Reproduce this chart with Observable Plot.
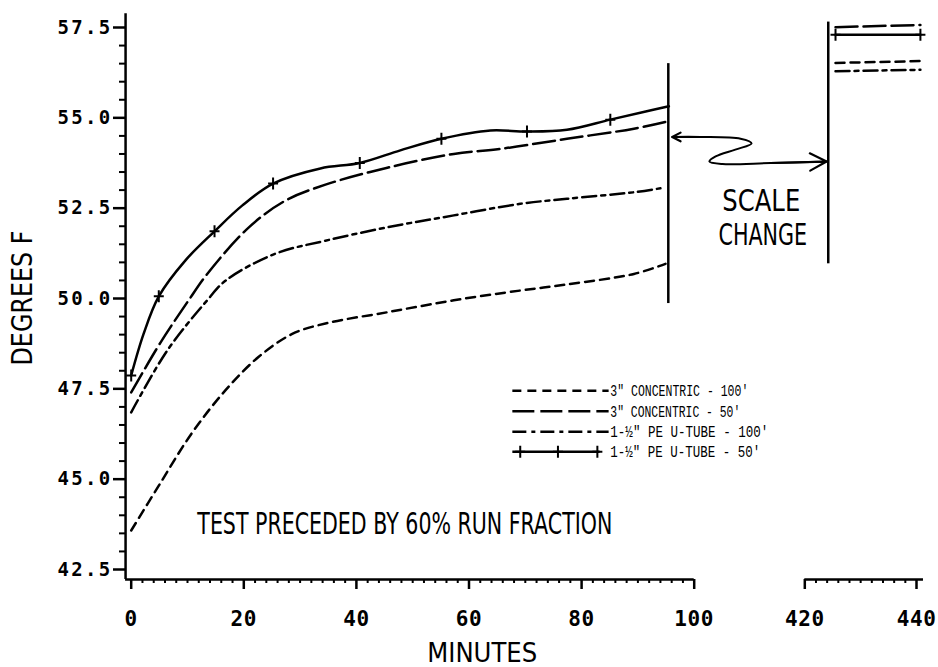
<!DOCTYPE html>
<html>
<head>
<meta charset="utf-8">
<script src="https://cdn.jsdelivr.net/npm/d3@7"></script>
<script src="https://cdn.jsdelivr.net/npm/@observablehq/plot@0.6"></script>
<style>
  html, body { margin: 0; padding: 0; background: #fff; }
  #chart svg { display: block; }
</style>
</head>
<body>
<div id="chart"></div>
<script>
// ---------------- data ----------------
const seriesLabels = [
  "3\" CONCENTRIC - 100'",
  "3\" CONCENTRIC - 50'",
  "1-½\" PE U-TUBE - 100'",
  "1-½\" PE U-TUBE - 50'"
];

// 3" concentric - 100'  (short dash)
const conc100Minutes = [0, 4.9, 10.8, 16.8, 22.6, 28.6, 34.5, 45.5, 57.3, 69.1, 77.4, 89.3, 94.9];
const conc100Degrees = [43.58, 44.82, 46.28, 47.47, 48.38, 49.02, 49.31, 49.62, 49.95, 50.22, 50.39, 50.68, 50.96];

// 3" concentric - 50'  (long dash)
const conc50Minutes = [0, 5.2, 10.2, 13.5, 20.9, 27.4, 34.5, 45.5, 57.3, 65.6, 77.4, 89.3, 95.5];
const conc50Degrees = [47.4, 48.78, 49.95, 50.68, 51.97, 52.71, 53.15, 53.62, 54.0, 54.14, 54.42, 54.7, 54.91];

// 1-1/2" PE U-tube - 100'  (dash-dot)
const pe100Minutes = [0, 6.4, 13.5, 16.8, 25.6, 34.5, 45.5, 57.3, 69.1, 77.4, 89.3, 94];
const pe100Degrees = [46.85, 48.56, 49.95, 50.5, 51.24, 51.6, 51.97, 52.3, 52.62, 52.76, 52.94, 53.05];

// 1-1/2" PE U-tube - 50'  (solid with + markers)
const pe50Minutes = [0, 2.2, 4.9, 9.6, 14.8, 19.7, 25.2, 33.6, 40.6, 47.8, 55.1, 63.8, 70.3, 77.4, 85.1, 91, 95.5];
const pe50Degrees = [47.87, 49.02, 50.06, 51.05, 51.86, 52.57, 53.18, 53.6, 53.75, 54.1, 54.42, 54.65, 54.62, 54.67, 54.95, 55.16, 55.32];
const pe50MarkMinutes = [0, 4.9, 14.8, 25.2, 40.6, 55.1, 70.3, 85.1];
const pe50MarkDegrees = [47.87, 50.06, 51.86, 53.18, 53.75, 54.42, 54.62, 54.95];

// after the scale change (420-440 minutes)
const lateMinutes = [425.5, 440.7];
const conc100Late = [56.52, 56.57];
const conc50Late = [57.51, 57.57];
const pe100Late = [56.29, 56.33];
const pe50Late = [57.3, 57.3];

// axes
const xMajorTicks = [0, 20, 40, 60, 80, 100, 420, 440];
const xMinorTicks = d3.range(2, 100, 2).filter(v => v % 20 !== 0)
  .concat(d3.range(422, 440, 2));
const yMajorTicks = [42.5, 45, 47.5, 50, 52.5, 55, 57.5];
const yMinorTicks = d3.range(43, 57.5, 0.5).filter(v => Math.abs((v - 42.5) % 2.5) > 1e-6);

const noteText = "TEST PRECEDED BY 60% RUN FRACTION";
const scaleNote = ["SCALE", "CHANGE"];
const xLabel = "MINUTES";
const yLabel = "DEGREES F";

// ---------------- chart ----------------
const zip = (a, b) => a.map((v, i) => [v, b[i]]);
const dashes = ["9,6", "22,6", "14,5,4,5", null];
const plusSymbol = {
  draw(ctx) { ctx.moveTo(-5, 0); ctx.lineTo(5, 0); ctx.moveTo(0, -6); ctx.lineTo(0, 6); }
};
const lineStyle = { x: d => d[0], y: d => d[1], stroke: "black", strokeWidth: 2.5, curve: "catmull-rom" };

const early = [
  zip(conc100Minutes, conc100Degrees),
  zip(conc50Minutes, conc50Degrees),
  zip(pe100Minutes, pe100Degrees),
  zip(pe50Minutes, pe50Degrees)
];
const late = [conc100Late, conc50Late, pe100Late, pe50Late].map(v => zip(lateMinutes, v));

// legend rows (annotation)
const legendY = [47.45, 46.88, 46.31, 45.76];
const legendRows = seriesLabels.map((name, i) => ({ name, y: legendY[i] }));

// squiggly double arrow annotation (minutes, degrees)
const arrowPath = [[96.1, 54.47], [118, 54.47], [234, 54.42], [266, 54.29], [219, 54.12],
                   [162, 53.93], [144, 53.79], [182, 53.72], [321, 53.75], [423.9, 53.79]];

const marks = [];
// axis lines (broken x axis)
marks.push(Plot.ruleY([[-1, 100], [420, 441.25]], { y: 42.22, x1: d => d[0], x2: d => d[1], strokeWidth: 2.5 }));
marks.push(Plot.ruleX([-1], { y1: 42.22, y2: 57.88, strokeWidth: 2.5 }));
// axes
marks.push(Plot.axisX(xMinorTicks, { anchor: "bottom", tickSize: 4, strokeWidth: 2, tickFormat: () => "", label: null }));
marks.push(Plot.axisX(xMajorTicks, { anchor: "bottom", tickSize: 10, tickPadding: 22, strokeWidth: 2.5,
  tickFormat: d => String(d), fontSize: 21, fontWeight: "bold", fontFamily: "DejaVu Sans Mono", label: null }));
marks.push(Plot.axisY(yMinorTicks, { anchor: "left", tickSize: 6, strokeWidth: 2, tickFormat: () => "", label: null }));
marks.push(Plot.axisY(yMajorTicks, { anchor: "left", tickSize: 12, tickPadding: 1, strokeWidth: 2.5,
  tickFormat: d => d.toFixed(1), fontSize: 19, fontWeight: "bold", fontFamily: "DejaVu Sans Mono", label: null }));

// series lines
early.forEach((pts, i) => marks.push(Plot.line(pts, { ...lineStyle, strokeDasharray: dashes[i] })));
late.forEach((pts, i) => marks.push(Plot.line(pts, { ...lineStyle, curve: "linear", strokeDasharray: dashes[i] })));
marks.push(Plot.dot(zip(pe50MarkMinutes, pe50MarkDegrees), { x: d => d[0], y: d => d[1], symbol: plusSymbol, fill: "none", stroke: "black", strokeWidth: 2 }));
marks.push(Plot.dot(late[3], { x: d => d[0], y: d => d[1], symbol: plusSymbol, fill: "none", stroke: "black", strokeWidth: 2 }));

// scale-break verticals
marks.push(Plot.ruleX([95.4], { y1: 49.86, y2: 56.5, strokeWidth: 2.5 }));
marks.push(Plot.ruleX([424.2], { y1: 50.96, y2: 57.65, strokeWidth: 2.5 }));

// arrow: squiggle plus two arrowheads
marks.push(Plot.line(arrowPath, { x: d => d[0], y: d => d[1], curve: "catmull-rom", stroke: "black", strokeWidth: 2 }));
const arrowEnds = [
  { x1: arrowPath[1][0], y1: arrowPath[1][1], x2: arrowPath[0][0], y2: arrowPath[0][1] },
  { x1: arrowPath[8][0], y1: arrowPath[8][1], x2: arrowPath[9][0], y2: arrowPath[9][1] }
];
marks.push(Plot.arrow(arrowEnds, { x1: "x1", y1: "y1", x2: "x2", y2: "y2", headLength: 13, headAngle: 55, stroke: "black", strokeWidth: 2.2 }));

// legend
legendRows.forEach((row, i) => {
  marks.push(Plot.link([row], { x1: 67.7, x2: i === 3 ? 83.2 : 84.8, y1: "y", y2: "y", stroke: "black", strokeWidth: 2.5, strokeDasharray: dashes[i] }));
});
marks.push(Plot.dot([[69.1, legendY[3]], [75.8, legendY[3]], [82.8, legendY[3]]], { x: d => d[0], y: d => d[1], symbol: plusSymbol, fill: "none", stroke: "black", strokeWidth: 2 }));
marks.push(Plot.text(legendRows, { x: 85.1, y: "y", text: "name", textAnchor: "start", fontFamily: "Liberation Mono", fontSize: 17, fill: "black" }));

// annotations
marks.push(Plot.text([noteText], { x: 48.6, y: 43.75, text: d => d, fontFamily: "DejaVu Sans", fontSize: 30, fill: "black" }));
marks.push(Plot.text([scaleNote[0]], { x: 294.1, y: 52.69, text: d => d, fontFamily: "DejaVu Sans", fontSize: 30, fill: "black" }));
marks.push(Plot.text([scaleNote[1]], { x: 298.5, y: 51.74, text: d => d, fontFamily: "DejaVu Sans", fontSize: 30, fill: "black" }));
// axis titles
marks.push(Plot.text([xLabel], { frameAnchor: "bottom", text: d => d, dx: -42.3, dy: 82, fontFamily: "DejaVu Sans", fontSize: 27, fill: "black" }));
marks.push(Plot.text([yLabel], { frameAnchor: "left", text: d => d, dx: -102.5, dy: 69, rotate: -90, fontFamily: "DejaVu Sans", fontSize: 29, fill: "black" }));

const chart = Plot.plot({
  width: 938,
  height: 667,
  marginLeft: 125,
  marginRight: 15,
  marginTop: 13,
  marginBottom: 88,
  style: { background: "#fff", color: "#000", fontFamily: "DejaVu Sans Mono", fontSize: "19px" },
  x: { type: "linear", domain: [0, 100, 420, 440], range: [130.7, 693.7, 804.3, 916] },
  y: { type: "linear", domain: [42.5, 57.5], range: [569, 27] },
  marks
});

// fit condensed lettering widths
const fits = new Map([
  [noteText, 415], ["SCALE", 78], ["CHANGE", 88.7], [xLabel, 110], [yLabel, 135],
  [seriesLabels[0], 138], [seriesLabels[1], 130], [seriesLabels[2], 158], [seriesLabels[3], 150]
]);
const yLabels = yMajorTicks.map(d => d.toFixed(1));
const tickLabels = new Set(xMajorTicks.map(String).concat(yLabels));
d3.select(chart).selectAll("text").each(function () {
  const t = this.textContent;
  if (fits.has(t)) {
    this.setAttribute("textLength", fits.get(t));
    this.setAttribute("lengthAdjust", "spacingAndGlyphs");
  } else if (tickLabels.has(t)) {
    this.style.letterSpacing = yLabels.includes(t) ? "2.3px" : "0.6px";
  }
});

document.getElementById("chart").appendChild(chart);
</script>
</body>
</html>
